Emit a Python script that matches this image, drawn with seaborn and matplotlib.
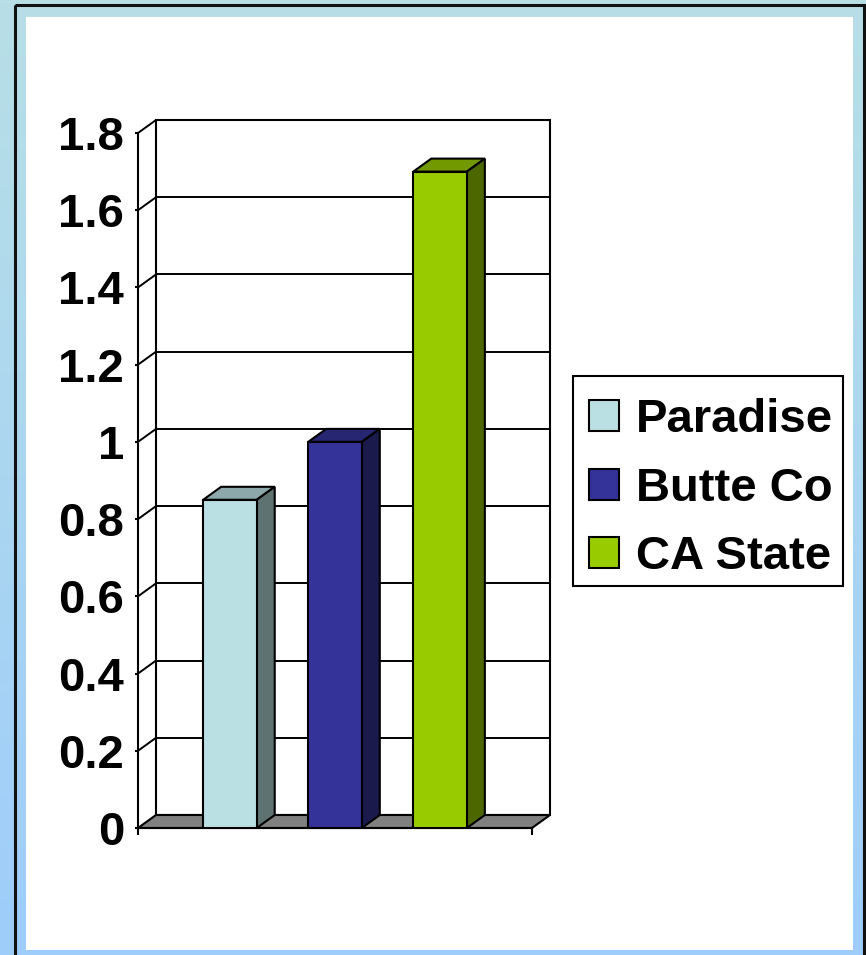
import numpy as np
import pandas as pd
import matplotlib
matplotlib.use("Agg")
import matplotlib.pyplot as plt
import matplotlib.colors as mcolors
import seaborn as sns
from matplotlib.patches import Polygon, Rectangle, Patch

# ---- data ----
regions = ["Paradise", "Butte Co", "CA State"]
values = [0.85, 1.0, 1.7]
y_ticks = [0, 0.2, 0.4, 0.6, 0.8, 1.0, 1.2, 1.4, 1.6, 1.8]
y_tick_labels = ["0", "0.2", "0.4", "0.6", "0.8", "1", "1.2", "1.4", "1.6", "1.8"]

# ---- styles ----
front_colors = ["#bbe0e3", "#333399", "#99cc00"]
side_colors = ["#5f7272", "#1a1a4c", "#4c6600"]
top_colors = ["#8da8aa", "#262673", "#739900"]

sns.set_theme(style="white")
plt.rcParams["font.family"] = ["Liberation Sans", "DejaVu Sans"]

W, H = 866, 955
fig = plt.figure(figsize=(W / 100, H / 100), dpi=100)

# background gradient + frame
bg = fig.add_axes([0, 0, 1, 1], zorder=-10)
g = np.linspace(0, 1, 256)[:, None, None]
c_top = np.array(mcolors.to_rgb("#b8dfe6"))[None, None, :]
c_bot = np.array(mcolors.to_rgb("#9ecdfb"))[None, None, :]
img = c_top * (1 - g) + c_bot * g
bg.imshow(img, aspect="auto", extent=[0, W, H, 0])
bg.set_xlim(0, W)
bg.set_ylim(H, 0)
bg.axis("off")
bg.add_patch(Rectangle((15, 5), 848.5, 980, fill=False, edgecolor="#111111", lw=2.2))
bg.add_patch(Rectangle((26, 17), 827, 933, facecolor="white", edgecolor="none"))
# legend frame
bg.add_patch(Rectangle((573, 376), 270, 210, facecolor="white", edgecolor="black", lw=1.5))

# main axes (front plane)
ax = fig.add_axes([138 / W, (H - 828) / H, 394 / W, 695 / H])
ax.set_facecolor("none")

df = pd.DataFrame({"group": ["Region"] * len(regions), "region": regions, "value": values})
sns.barplot(data=df, x="group", y="value", hue="region", hue_order=regions,
            palette=front_colors, width=0.8, gap=0.49, edgecolor="black",
            linewidth=1.5, saturation=1, legend=False, ax=ax)
bars = list(ax.patches)

ax.set_xlim(-0.5, 0.5)
ax.set_ylim(0, 1.8)

dx = 18 / 394
dy = 13 * 1.8 / 695

# back wall
ax.add_patch(Rectangle((-0.5 + dx, dy), 1, 1.8, facecolor="white", edgecolor="black",
                       lw=1.5, zorder=0.5, clip_on=False))
for y in y_ticks[1:-1]:
    ax.plot([-0.5 + dx, 0.5 + dx], [y + dy, y + dy], color="black", lw=1.4,
            zorder=1, clip_on=False)
for y in y_ticks[1:]:
    ax.plot([-0.5, -0.5 + dx], [y, y + dy], color="black", lw=1.4, zorder=1, clip_on=False)

# floor
ax.add_patch(Polygon([(-0.5, 0), (0.5, 0), (0.5 + dx, dy), (-0.5 + dx, dy)],
                     closed=True, facecolor="#808080", edgecolor="black", lw=1.5,
                     zorder=2, clip_on=False))

# 3D faces of bars
for i, p in enumerate(bars):
    x0, w, h = p.get_x(), p.get_width(), p.get_height()
    p.set_zorder(5)
    ax.add_patch(Polygon([(x0, h), (x0 + w, h), (x0 + w + dx, h + dy), (x0 + dx, h + dy)],
                         closed=True, facecolor=top_colors[i], edgecolor="black", lw=1.5,
                         zorder=4, clip_on=False))
    ax.add_patch(Polygon([(x0 + w, 0), (x0 + w, h), (x0 + w + dx, h + dy), (x0 + w + dx, dy)],
                         closed=True, facecolor=side_colors[i], edgecolor="black", lw=1.5,
                         zorder=4, clip_on=False))

# spines & ticks
for s in ["top", "right"]:
    ax.spines[s].set_visible(False)
for s in ["left", "bottom"]:
    ax.spines[s].set_color("black")
    ax.spines[s].set_linewidth(1.5)
    ax.spines[s].set_zorder(3)

ax.set_yticks(y_ticks, y_tick_labels)
ax.tick_params(axis="y", left=True, length=2.5, width=1.5, color="black", pad=7.5,
               labelsize=34, labelcolor="black")
for t in ax.get_yticklabels():
    t.set_fontweight("bold")
ax.set_xticks([-0.5, 0.5], ["", ""])
ax.tick_params(axis="x", bottom=True, length=5, width=1.5, color="black", direction="out")
ax.set_xlabel("")
ax.set_ylabel("")

# legend (frame drawn separately above)
handles = [Patch(facecolor=c, edgecolor="black", lw=1.5) for c in front_colors]
leg = fig.legend(handles, regions, loc="upper left",
                 bbox_to_anchor=(575 / W, 1 - 384 / H), borderaxespad=0,
                 frameon=False,
                 prop={"family": "Liberation Sans", "weight": "bold", "size": 34},
                 handlelength=0.63, handleheight=0.63, handletextpad=0.36,
                 labelspacing=0.52, borderpad=0.3)
for t in leg.get_texts():
    t.set_color("black")

fig.savefig("out.png", dpi=100)
